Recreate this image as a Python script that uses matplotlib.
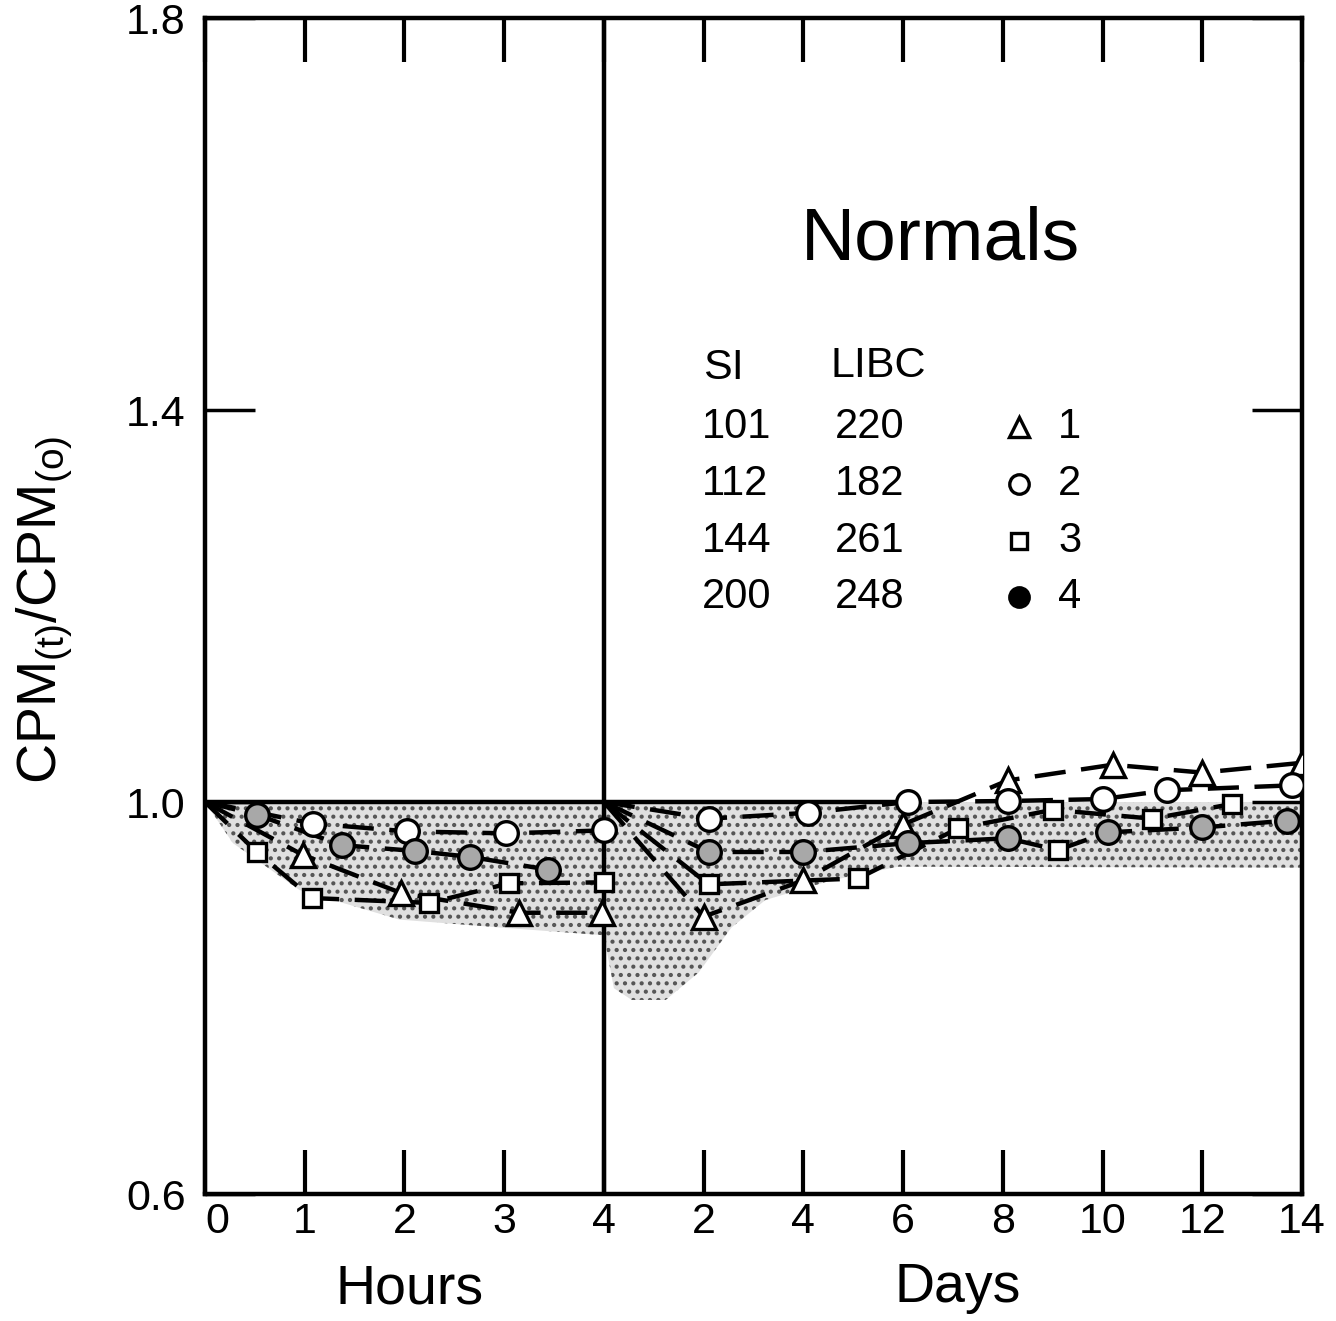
import numpy as np
import matplotlib.pyplot as plt

plt.rcParams['font.family'] = ['Liberation Sans', 'DejaVu Sans']
plt.rcParams['mathtext.fontset'] = 'custom'
plt.rcParams['mathtext.rm'] = 'Liberation Sans'
plt.rcParams['hatch.linewidth'] = 1.8

# --- data: hours part (0-4 h) ---
h1_x = [0, 0.98, 1.97, 3.15, 3.98]
h1_y = [1.0, 0.946, 0.907, 0.887, 0.887]
h2_x = [0, 1.08, 2.03, 3.02, 4.0]
h2_y = [1.0, 0.978, 0.970, 0.968, 0.971]
h3_x = [0, 0.52, 1.07, 2.25, 3.05, 4.0]
h3_y = [1.0, 0.949, 0.902, 0.897, 0.917, 0.918]
h4_x = [0, 0.52, 1.37, 2.11, 2.66, 3.44]
h4_y = [1.0, 0.987, 0.956, 0.950, 0.944, 0.931]

# --- data: days part (0-14 d) ---
d1_x = [0, 2, 4, 6, 8.1, 10.2, 12, 14]
d1_y = [1.0, 0.883, 0.920, 0.977, 1.022, 1.038, 1.030, 1.040]
d2_x = [0, 2.1, 4.1, 6.1, 8.1, 10, 11.3, 13.8]
d2_y = [1.0, 0.983, 0.989, 1.0, 1.001, 1.003, 1.012, 1.017]
d3_x = [0, 2.1, 5.1, 7.1, 9.0, 11.0, 12.6]
d3_y = [1.0, 0.916, 0.922, 0.973, 0.992, 0.983, 0.998]
d4_x = [0, 2.1, 4, 6.1, 8.1, 9.1, 10.1, 12, 13.7]
d4_y = [1.0, 0.949, 0.949, 0.958, 0.963, 0.951, 0.969, 0.974, 0.981]
d4_sq = 5  # index of the point printed as a square

# normal range (shaded band), lower edge
band_h_x = [0, 0.28, 0.95, 1.95, 2.95, 4.0]
band_h_lo = [1.0, 0.958, 0.910, 0.880, 0.872, 0.864]
band_d_x = [0, 0.2, 0.56, 1.24, 1.9, 2.56, 3.24, 4.56, 5.9, 14]
band_d_lo = [0.864, 0.81, 0.798, 0.798, 0.826, 0.872, 0.90, 0.920, 0.934, 0.933]

legend_si = ['101', '112', '144', '200']
legend_libc = ['220', '182', '261', '248']
legend_id = ['1', '2', '3', '4']

xtick_pos = list(range(12))
xtick_lab = ['0', '1', '2', '3', '4', '2', '4', '6', '8', '10', '12', '14']


def day_x(d):
    return 4 + np.asarray(d) / 2.0


fig = plt.figure(figsize=(13.36, 13.21), dpi=100)
ax = fig.add_axes([205/1336, 1 - 1194/1321, 1097/1336, 1176/1321])

# shaded band
bx = np.concatenate([band_h_x, day_x(band_d_x)])
blo = np.concatenate([band_h_lo, band_d_lo])
ax.fill_between(bx, blo, 1.0, facecolor='#e0e0e0', edgecolor='#555555',
                hatch='..', linewidth=0, zorder=1)

ax.plot([0, day_x(6)], [1.0, 1.0], color='black', lw=3.2, zorder=2)
ax.axvline(4, color='black', lw=3.2, zorder=2)

dash = (0, (7, 3.5))
lk = dict(color='black', lw=3.2, linestyle=dash, zorder=3)
mk = dict(markeredgecolor='black', markeredgewidth=2.4, linestyle='none', zorder=4)

for xs, ys in [(h1_x, h1_y), (h2_x, h2_y), (h3_x, h3_y), (h4_x, h4_y)]:
    ax.plot(xs, ys, **lk)
for xs, ys in [(d1_x, d1_y), (d2_x, d2_y), (d3_x, d3_y), (d4_x, d4_y)]:
    ax.plot(day_x(xs), ys, **lk)

ax.plot(h1_x[1:], h1_y[1:], marker='^', ms=17, markerfacecolor='white', **mk)
ax.plot(day_x(d1_x[1:]), d1_y[1:], marker='^', ms=17, markerfacecolor='white', **mk)
ax.plot(h2_x[1:], h2_y[1:], marker='o', ms=17, markerfacecolor='white', **mk)
ax.plot(day_x(d2_x[1:]), d2_y[1:], marker='o', ms=17, markerfacecolor='white', **mk)
ax.plot(h3_x[1:], h3_y[1:], marker='s', ms=13, markerfacecolor='white', **mk)
ax.plot(day_x(d3_x[1:]), d3_y[1:], marker='s', ms=13, markerfacecolor='white', **mk)
ax.plot(h4_x[1:], h4_y[1:], marker='o', ms=17, markerfacecolor='#a8a8a8', **mk)
d4_round = [i for i in range(1, len(d4_x)) if i != d4_sq]
ax.plot(day_x([d4_x[i] for i in d4_round]), [d4_y[i] for i in d4_round],
        marker='o', ms=17, markerfacecolor='#a8a8a8', **mk)
ax.plot(day_x([d4_x[d4_sq]]), [d4_y[d4_sq]], marker='s', ms=13,
        markerfacecolor='white', **mk)

ax.set_xlim(0, 10.97)
ax.set_ylim(0.6, 1.8)
ax.set_xticks(xtick_pos)
ax.set_xticklabels(xtick_lab)
ax.set_yticks([0.6, 1.0, 1.4, 1.8])
ax.set_yticklabels(['0.6', '1.0', '1.4', '1.8'])
ax.tick_params(axis='x', direction='in', top=True, length=32, width=3,
               labelsize=31, pad=6)
ax.tick_params(axis='y', direction='in', right=True, length=36, width=2.5,
               labelsize=31, pad=14)
ax.get_xticklabels()[0].set_ha('left')
for s in ax.spines.values():
    s.set_linewidth(3.2)

fig.text(410/1336, 1 - 1290/1321, 'Hours', fontsize=40, ha='center', va='center')
fig.text(958/1336, 1 - 1288/1321, 'Days', fontsize=40, ha='center', va='center')
fig.text(45/1336, 1 - 610/1321, r'$\mathregular{CPM_{(t)}/CPM_{(o)}}$',
         fontsize=40, rotation=90, ha='center', va='center')

ax.text(940/1336, 1 - 240/1321, 'Normals', transform=fig.transFigure,
        fontsize=54, ha='center', va='center')

tf = fig.transFigure
ax.text(703/1336, 1 - 368/1321, 'SI', transform=tf, fontsize=31, va='center')
ax.text(830/1336, 1 - 366/1321, 'LIBC', transform=tf, fontsize=31, va='center')
row_y = [427, 484, 541, 597]
leg_m = [('^', 'white', 14), ('o', 'white', 14), ('s', 'white', 11), ('o', 'black', 14)]
for i in range(4):
    yy = 1 - row_y[i]/1321
    ax.text(702/1336, yy, legend_si[i], transform=tf, fontsize=30, va='center')
    ax.text(835/1336, yy, legend_libc[i], transform=tf, fontsize=30, va='center')
    m, fc, s = leg_m[i]
    ax.plot([1019/1336], [yy], transform=tf, marker=m, ms=s, markerfacecolor=fc,
            markeredgecolor='black', markeredgewidth=2.4, linestyle='none')
    ax.text(1058/1336, yy, legend_id[i], transform=tf, fontsize=30, va='center')

fig.savefig('out.png', dpi=100)
